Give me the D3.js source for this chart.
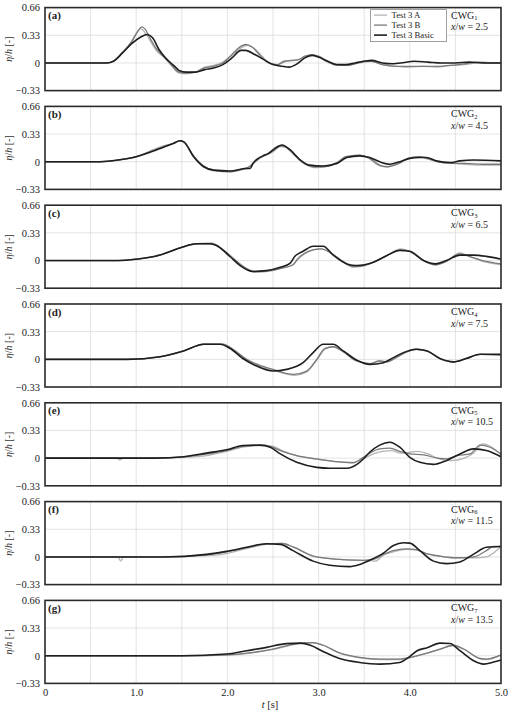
<!DOCTYPE html>
<html><head><meta charset="utf-8">
<script src="https://cdn.jsdelivr.net/npm/d3@7"></script>
<style>
body{margin:0;background:#fff}
svg{display:block}
text{font-family:"Liberation Serif","Times New Roman",serif}
</style></head>
<body><svg id="c" width="510" height="711"></svg>
<script>
// ---------- data ----------
const panelLetters = ["(a)","(b)","(c)","(d)","(e)","(f)","(g)"];
const gaugeNums = ["1","2","3","4","5","6","7"];
const xwValues = ["2.5","4.5","6.5","7.5","10.5","11.5","13.5"];
const seriesNames = ["Test 3 A","Test 3 B","Test 3 Basic"];
const yTicks = [-0.33, 0, 0.33, 0.66];
const yTickLabels = ["\u22120.33","0","0.33","0.66"];
const xTicks = [0,1,2,3,4,5];
const xTickLabels = ["0","1.0","2.0","3.0","4.0","5.0"];
const xGrid = [0.5,1,1.5,2,2.5,3,3.5,4,4.5];
const yGrid = [0, 0.33];

const a_A = [[0,0],[0.68,0],[0.75,0.02],[0.85,0.13],[0.95,0.26],[1.01,0.37],[1.05,0.41],[1.09,0.37],[1.15,0.27],[1.22,0.15],[1.32,0.05],[1.4,-0.05],[1.47,-0.12],[1.53,-0.13],[1.65,-0.11],[1.75,-0.05],[1.85,-0.03],[1.95,0.01],[2.05,0.09],[2.15,0.18],[2.22,0.21],[2.3,0.17],[2.38,0.08],[2.47,-0.01],[2.55,-0.02],[2.65,0.02],[2.75,0.03],[2.85,0.07],[2.93,0.09],[3.0,0.07],[3.1,0.01],[3.2,-0.03],[3.3,-0.03],[3.4,-0.01],[3.5,0.01],[3.58,0.02],[3.7,-0.02],[3.85,-0.04],[4.0,-0.05],[4.15,-0.04],[4.3,-0.05],[4.45,-0.03],[4.6,-0.02],[4.75,0.0],[4.9,0.0],[5.0,0]];
const a_B = [[0,0],[0.68,0],[0.75,0.02],[0.85,0.12],[0.95,0.25],[1.02,0.38],[1.06,0.43],[1.1,0.40],[1.15,0.30],[1.22,0.17],[1.32,0.06],[1.4,-0.04],[1.47,-0.11],[1.55,-0.12],[1.65,-0.11],[1.75,-0.06],[1.85,-0.04],[1.95,0.0],[2.05,0.1],[2.15,0.2],[2.2,0.22],[2.27,0.19],[2.35,0.1],[2.45,0.0],[2.55,-0.02],[2.62,0.02],[2.7,0.03],[2.78,0.04],[2.85,0.08],[2.92,0.1],[3.0,0.08],[3.1,0.02],[3.2,-0.02],[3.3,-0.03],[3.4,-0.01],[3.5,0.02],[3.58,0.02],[3.7,-0.02],[3.85,-0.04],[4.0,-0.04],[4.15,-0.04],[4.3,-0.04],[4.45,-0.03],[4.6,-0.01],[4.75,0.01],[4.9,0.0],[5.0,0]];
const a_Basic = [[0,0],[0.68,0],[0.75,0.02],[0.85,0.12],[0.95,0.23],[1.05,0.31],[1.12,0.34],[1.18,0.30],[1.25,0.16],[1.32,0.06],[1.4,-0.02],[1.45,-0.07],[1.47,-0.09],[1.55,-0.11],[1.65,-0.11],[1.75,-0.08],[1.85,-0.06],[1.95,-0.02],[2.05,0.06],[2.15,0.15],[2.2,0.15],[2.3,0.10],[2.4,0.04],[2.5,-0.02],[2.6,-0.04],[2.68,-0.05],[2.75,-0.02],[2.85,0.06],[2.93,0.09],[3.0,0.07],[3.1,0.02],[3.2,-0.02],[3.3,-0.02],[3.4,0.0],[3.5,0.02],[3.58,0.03],[3.7,0.0],[3.8,-0.01],[3.9,0.0],[4.05,0.02],[4.2,0.01],[4.35,0.0],[4.5,0.0],[4.65,0.01],[4.8,0.0],[5.0,0]];

const b_A = [[0,0],[0.6,0],[0.8,0.02],[1.0,0.06],[1.2,0.15],[1.3,0.19],[1.41,0.22],[1.48,0.25],[1.53,0.22],[1.63,0.06],[1.74,-0.06],[1.85,-0.11],[2.03,-0.12],[2.15,-0.10],[2.25,-0.06],[2.31,0.0],[2.37,0.05],[2.43,0.08],[2.5,0.12],[2.58,0.18],[2.64,0.17],[2.72,0.09],[2.82,-0.01],[2.95,-0.07],[3.05,-0.06],[3.2,-0.01],[3.3,0.06],[3.45,0.08],[3.55,0.04],[3.67,-0.05],[3.75,-0.06],[3.88,-0.02],[3.98,0.04],[4.1,0.06],[4.2,0.03],[4.3,0.0],[4.45,-0.02],[4.6,-0.03],[4.8,-0.04],[5.0,-0.04]];
const b_B = [[0,0],[0.6,0],[0.8,0.02],[1.0,0.06],[1.2,0.14],[1.3,0.18],[1.41,0.22],[1.48,0.25],[1.53,0.23],[1.63,0.07],[1.74,-0.05],[1.85,-0.10],[2.03,-0.12],[2.15,-0.09],[2.25,-0.05],[2.3,0.0],[2.36,0.05],[2.42,0.08],[2.5,0.13],[2.58,0.19],[2.63,0.18],[2.72,0.10],[2.82,0.0],[2.95,-0.06],[3.05,-0.06],[3.2,-0.01],[3.3,0.06],[3.45,0.08],[3.55,0.05],[3.67,-0.04],[3.75,-0.06],[3.88,-0.02],[3.98,0.04],[4.1,0.06],[4.2,0.04],[4.3,0.0],[4.45,-0.02],[4.6,-0.02],[4.8,-0.03],[5.0,-0.03]];
const b_Basic = [[0,0],[0.6,0],[0.8,0.02],[1.0,0.06],[1.22,0.14],[1.41,0.22],[1.48,0.25],[1.52,0.24],[1.63,0.06],[1.74,-0.06],[1.85,-0.10],[2.03,-0.11],[2.21,-0.08],[2.25,-0.08],[2.28,-0.02],[2.34,0.04],[2.39,0.07],[2.45,0.10],[2.52,0.16],[2.6,0.20],[2.69,0.14],[2.8,0.02],[2.9,-0.04],[3.05,-0.05],[3.2,-0.02],[3.31,0.05],[3.45,0.07],[3.56,0.05],[3.69,-0.01],[3.78,-0.03],[3.89,0.0],[4.0,0.04],[4.11,0.05],[4.18,0.05],[4.29,0.01],[4.44,-0.01],[4.55,0.01],[4.7,0.02],[5.0,0.01]];

const c_A = [[0,0],[0.8,0],[1.0,0.016],[1.26,0.065],[1.48,0.15],[1.66,0.2],[1.83,0.21],[1.9,0.17],[2.05,0.04],[2.16,-0.07],[2.3,-0.14],[2.45,-0.13],[2.6,-0.09],[2.72,-0.05],[2.77,0.01],[2.85,0.08],[2.95,0.13],[3.03,0.14],[3.12,0.1],[3.25,0.0],[3.38,-0.08],[3.5,-0.06],[3.62,-0.01],[3.75,0.06],[3.9,0.14],[4.0,0.11],[4.15,0.0],[4.28,-0.05],[4.4,-0.01],[4.55,0.09],[4.65,0.05],[4.8,-0.01],[5.0,-0.05]];
const c_B = [[0,0],[0.8,0],[1.0,0.016],[1.26,0.065],[1.48,0.15],[1.66,0.2],[1.83,0.2],[1.9,0.17],[2.05,0.04],[2.16,-0.06],[2.3,-0.13],[2.45,-0.12],[2.6,-0.09],[2.72,-0.05],[2.77,0.02],[2.85,0.09],[2.95,0.13],[3.03,0.14],[3.12,0.1],[3.25,0.0],[3.38,-0.07],[3.5,-0.06],[3.62,-0.01],[3.75,0.06],[3.9,0.13],[4.0,0.11],[4.15,0.0],[4.28,-0.05],[4.4,-0.01],[4.55,0.08],[4.65,0.05],[4.8,0.0],[5.0,-0.04]];
const c_Basic = [[0,0],[0.8,0],[1.0,0.016],[1.26,0.065],[1.48,0.15],[1.66,0.2],[1.81,0.2],[1.88,0.18],[2.03,0.045],[2.14,-0.06],[2.28,-0.13],[2.43,-0.12],[2.58,-0.08],[2.69,-0.03],[2.74,0.05],[2.83,0.11],[2.94,0.17],[3.05,0.17],[3.16,0.065],[3.31,-0.04],[3.42,-0.06],[3.6,-0.02],[3.75,0.06],[3.89,0.12],[4.0,0.11],[4.15,0.0],[4.28,-0.04],[4.4,0.0],[4.55,0.065],[4.7,0.065],[4.84,0.05],[5.0,0.016]];

const d_A = [[0,0],[0.9,0],[1.26,0.03],[1.52,0.1],[1.74,0.18],[1.95,0.18],[2.06,0.12],[2.21,0.0],[2.35,-0.08],[2.5,-0.13],[2.74,-0.19],[2.87,-0.15],[2.98,-0.01],[3.07,0.12],[3.16,0.15],[3.27,0.09],[3.42,-0.02],[3.56,-0.05],[3.67,-0.02],[3.75,-0.03],[3.85,0.02],[3.95,0.08],[4.07,0.12],[4.19,0.1],[4.33,0.01],[4.48,-0.03],[4.62,0.01],[4.77,0.06],[5.0,0.05]];
const d_B = [[0,0],[0.9,0],[1.26,0.03],[1.52,0.1],[1.74,0.18],[1.95,0.18],[2.06,0.12],[2.21,0.0],[2.35,-0.07],[2.5,-0.12],[2.72,-0.18],[2.87,-0.14],[2.98,0.0],[3.07,0.13],[3.16,0.15],[3.27,0.09],[3.42,-0.02],[3.56,-0.05],[3.67,-0.02],[3.75,-0.03],[3.85,0.02],[3.95,0.08],[4.07,0.12],[4.19,0.1],[4.33,0.01],[4.48,-0.03],[4.62,0.01],[4.77,0.06],[5.0,0.05]];
const d_Basic = [[0,0],[0.9,0],[1.26,0.03],[1.52,0.1],[1.74,0.18],[1.92,0.18],[2.03,0.13],[2.17,0.01],[2.32,-0.08],[2.5,-0.14],[2.65,-0.12],[2.83,-0.04],[2.94,0.08],[3.05,0.18],[3.16,0.18],[3.27,0.1],[3.42,-0.01],[3.56,-0.06],[3.71,-0.04],[3.82,0.02],[3.93,0.08],[4.07,0.12],[4.19,0.1],[4.33,0.01],[4.48,-0.03],[4.62,0.01],[4.77,0.06],[5.0,0.06]];

const e_A = [[0,0],[0.78,0],[0.82,-0.02],[0.86,0],[1.2,0],[1.52,0.01],[1.77,0.03],[1.99,0.08],[2.17,0.13],[2.36,0.15],[2.5,0.14],[2.6,0.09],[2.76,0.03],[2.98,-0.01],[3.23,-0.045],[3.38,-0.05],[3.5,0.0],[3.6,0.05],[3.7,0.08],[3.8,0.09],[3.9,0.06],[4.0,0.07],[4.08,0.08],[4.2,0.05],[4.3,0.0],[4.45,-0.03],[4.6,0.0],[4.7,0.06],[4.8,0.17],[4.9,0.13],[5.0,0.04]];
const e_B = [[0,0],[1.2,0],[1.52,0.015],[1.77,0.05],[1.99,0.09],[2.17,0.14],[2.36,0.155],[2.47,0.14],[2.58,0.09],[2.76,0.03],[2.98,-0.01],[3.23,-0.045],[3.38,-0.055],[3.49,0.01],[3.56,0.06],[3.67,0.11],[3.78,0.12],[3.89,0.08],[4.0,0.05],[4.15,0.04],[4.3,0.0],[4.4,-0.01],[4.52,0.03],[4.66,0.05],[4.77,0.155],[4.88,0.13],[5.0,0.05]];
const e_Basic = [[0,0],[1.2,0],[1.52,0.017],[1.77,0.06],[1.99,0.1],[2.17,0.15],[2.36,0.155],[2.47,0.13],[2.58,0.05],[2.76,-0.05],[2.98,-0.11],[3.12,-0.12],[3.31,-0.12],[3.42,-0.075],[3.49,-0.01],[3.56,0.07],[3.67,0.155],[3.78,0.19],[3.89,0.13],[4.0,0.01],[4.11,-0.05],[4.26,-0.075],[4.4,-0.03],[4.55,0.05],[4.7,0.11],[4.84,0.09],[5.0,0.017]];

const f_A = [[0,0],[0.8,0],[0.83,-0.05],[0.86,0],[1.3,0],[1.77,0.015],[1.99,0.04],[2.21,0.1],[2.43,0.15],[2.6,0.16],[2.72,0.12],[2.94,0.01],[3.23,-0.03],[3.49,-0.04],[3.62,-0.05],[3.71,0.02],[3.82,0.06],[3.96,0.09],[4.07,0.085],[4.18,0.04],[4.33,0.01],[4.51,-0.01],[4.7,-0.01],[4.84,0.0],[4.92,0.05],[5.0,0.125]];
const f_B = [[0,0],[1.3,0],[1.77,0.025],[1.99,0.06],[2.21,0.11],[2.43,0.155],[2.6,0.16],[2.72,0.12],[2.94,0.01],[3.23,-0.03],[3.49,-0.04],[3.6,-0.03],[3.71,0.03],[3.82,0.075],[3.96,0.095],[4.07,0.087],[4.18,0.04],[4.33,0.01],[4.51,-0.01],[4.7,0.0],[4.84,0.075],[4.92,0.125],[5.0,0.125]];
const f_Basic = [[0,0],[1.3,0],[1.77,0.03],[1.99,0.066],[2.21,0.115],[2.43,0.157],[2.58,0.15],[2.72,0.075],[2.94,-0.05],[3.12,-0.1],[3.34,-0.115],[3.45,-0.09],[3.56,-0.04],[3.71,0.045],[3.82,0.136],[3.93,0.17],[4.0,0.165],[4.11,0.075],[4.26,-0.05],[4.4,-0.08],[4.55,-0.06],[4.7,0.033],[4.84,0.115],[5.0,0.125]];

const g_A = [[0,0],[1.5,0],[2.0,0.008],[2.21,0.025],[2.5,0.075],[2.76,0.14],[2.94,0.155],[3.05,0.125],[3.23,0.03],[3.45,-0.025],[3.67,-0.045],[3.89,-0.045],[4.0,-0.025],[4.15,0.02],[4.33,0.075],[4.48,0.12],[4.59,0.08],[4.77,-0.035],[4.84,-0.045],[5.0,0.005]];
const g_B = [[0,0],[1.5,0],[2.0,0.01],[2.21,0.03],[2.5,0.08],[2.76,0.145],[2.94,0.157],[3.05,0.125],[3.23,0.033],[3.45,-0.02],[3.67,-0.04],[3.89,-0.04],[4.0,-0.02],[4.15,0.02],[4.33,0.08],[4.48,0.125],[4.59,0.08],[4.77,-0.033],[4.84,-0.04],[5.0,0.01]];
const g_Basic = [[0,0],[1.5,0],[1.99,0.02],[2.21,0.06],[2.43,0.1],[2.65,0.145],[2.8,0.15],[2.91,0.125],[3.05,0.05],[3.23,-0.033],[3.45,-0.08],[3.67,-0.1],[3.89,-0.08],[4.0,-0.01],[4.08,0.06],[4.19,0.095],[4.33,0.15],[4.44,0.145],[4.55,0.06],[4.7,-0.06],[4.81,-0.1],[4.92,-0.075],[5.0,-0.05]];

const panelSeries = [
  [a_A,a_B,a_Basic],[b_A,b_B,b_Basic],[c_A,c_B,c_Basic],[d_A,d_B,d_Basic],
  [e_A,e_B,e_Basic],[f_A,f_B,f_Basic],[g_A,g_B,g_Basic]
];

// ---------- layout / style ----------
const L = 45, R = 501, TOP0 = 7.6, STEP = 98.8, PH = 83;
const colors = ["#b4b4b4","#7a7a7a","#1e1e1e"];
const widths = [1.3,1.3,1.6];

const svg = d3.select("#c");
const x = d3.scaleLinear().domain([0,5]).range([L,R]);

panelSeries.forEach((series, i) => {
  const top = TOP0 + i*STEP;
  const y = d3.scaleLinear().domain([-0.33,0.66]).range([top+PH, top]);
  const g = svg.append("g");

  // grid
  g.append("g").selectAll("line").data(xGrid).join("line")
    .attr("x1", d=>x(d)).attr("x2", d=>x(d)).attr("y1", top).attr("y2", top+PH)
    .attr("stroke","#dcdcdc").attr("stroke-width",0.8);
  g.append("g").selectAll("line").data(yGrid).join("line")
    .attr("x1", L).attr("x2", R).attr("y1", d=>y(d)).attr("y2", d=>y(d))
    .attr("stroke","#dcdcdc").attr("stroke-width",0.8);

  // lines
  const line = d3.line().x(d=>x(d[0])).y(d=>y(d[1])).curve(d3.curveMonotoneX);
  series.forEach((s, k) => {
    g.append("path").datum(s).attr("d", line).attr("fill","none")
      .attr("stroke", colors[k]).attr("stroke-width", widths[k]).attr("stroke-linejoin","round");
  });

  // frame
  g.append("rect").attr("x",L).attr("y",top).attr("width",R-L).attr("height",PH)
    .attr("fill","none").attr("stroke","#2a2a2a").attr("stroke-width",1.6);

  // y axis
  const ya = g.append("g").attr("transform",`translate(${L},0)`)
    .call(d3.axisLeft(y).tickValues(yTicks).tickFormat((d,j)=>yTickLabels[j]).tickSize(0).tickPadding(5));
  ya.select(".domain").remove();
  ya.selectAll("text").attr("font-size",10.5).attr("fill","#222")
    .style("font-family",'"Liberation Serif",serif');

  // y label
  const yl = g.append("text").attr("transform",`translate(12,${top+PH/2}) rotate(-90)`)
    .attr("text-anchor","middle").attr("font-size",10).attr("fill","#333");
  yl.append("tspan").attr("font-style","italic").text("\u03b7");
  yl.append("tspan").text("/");
  yl.append("tspan").attr("font-style","italic").text("h");
  yl.append("tspan").text(" [-]");

  // panel letter
  g.append("text").attr("x",48).attr("y",top+11.5).attr("font-size",11)
    .attr("font-weight","bold").attr("fill","#222").text(panelLetters[i]);

  // gauge label
  const cw = g.append("text").attr("x",451).attr("y",top+11).attr("font-size",10).attr("fill","#222");
  cw.append("tspan").text("CWG");
  cw.append("tspan").attr("font-size",6.5).attr("dy",1.5).text(gaugeNums[i]);
  const xw = g.append("text").attr("x",451).attr("y",top+22.5).attr("font-size",10).attr("fill","#222");
  xw.append("tspan").attr("font-style","italic").text("x");
  xw.append("tspan").text("/");
  xw.append("tspan").attr("font-style","italic").text("w");
  xw.append("tspan").text(" = " + xwValues[i]);

  // legend in first panel
  if (i === 0) {
    const lg = g.append("g");
    lg.append("rect").attr("x",370.5).attr("y",top+2).attr("width",76).attr("height",32)
      .attr("fill","#fff").attr("stroke","#888").attr("stroke-width",0.8);
    seriesNames.forEach((nm,k) => {
      const yy = top + 7.5 + k*10;
      lg.append("line").attr("x1",374).attr("x2",387).attr("y1",yy).attr("y2",yy)
        .attr("stroke",colors[k]).attr("stroke-width",widths[k]);
      lg.append("text").attr("x",391.5).attr("y",yy+3).attr("font-size",8.7)
        .attr("fill","#222").text(nm);
    });
  }

  // x axis on last panel
  if (i === panelSeries.length-1) {
    const xa = g.append("g").attr("transform",`translate(0,${top+PH})`)
      .call(d3.axisBottom(x).tickValues(xTicks).tickFormat((d,j)=>xTickLabels[j]).tickSize(0).tickPadding(5.5));
    xa.select(".domain").remove();
    xa.selectAll("text").attr("font-size",10.5).attr("fill","#222")
      .style("font-family",'"Liberation Serif",serif');
    const xl = g.append("text").attr("x",270).attr("y",708).attr("text-anchor","middle")
      .attr("font-size",10.5).attr("fill","#222");
    xl.append("tspan").attr("font-style","italic").text("t");
    xl.append("tspan").text(" [s]");
  }
});
</script>
</body></html>
